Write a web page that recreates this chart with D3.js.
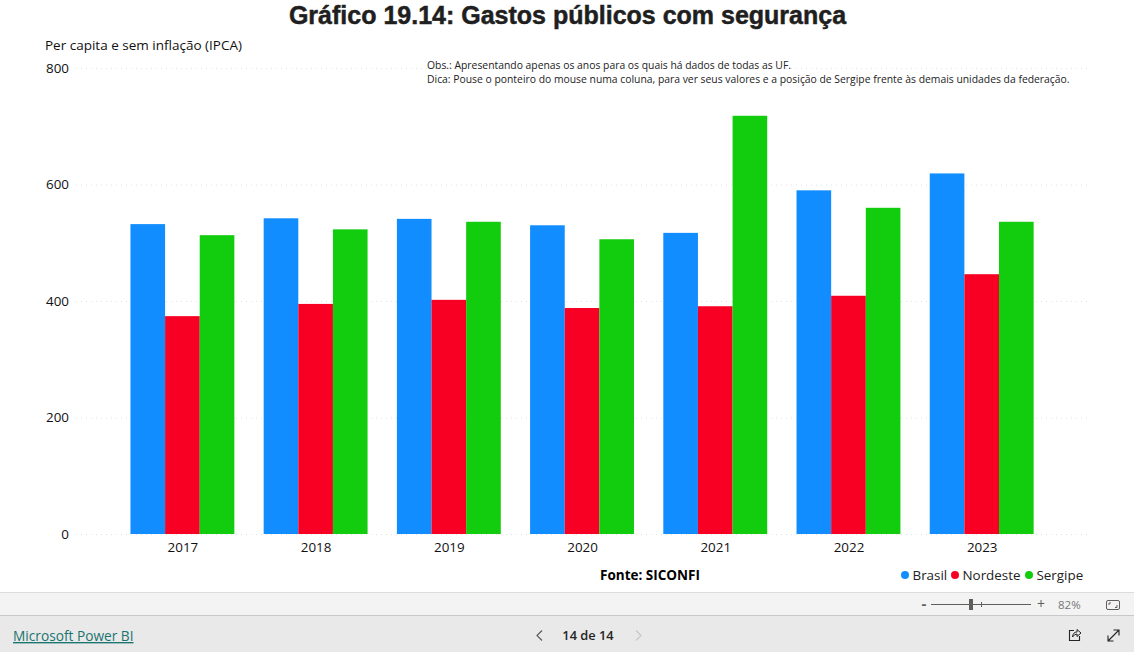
<!DOCTYPE html>
<html>
<head>
<meta charset="utf-8">
<script src="https://cdn.jsdelivr.net/npm/d3@7"></script>
<style>
  html, body { margin: 0; padding: 0; background: #fff; overflow: hidden; }
  svg { display: block; font-family: "Open Sans", sans-serif; }
  .axis .domain, .axis .tick line { display: none; }
  .axis text { font-family: "Open Sans", sans-serif; font-size: 13.4px; fill: #111; }
</style>
</head>
<body>
<script>
const years = ["2017", "2018", "2019", "2020", "2021", "2022", "2023"];
const seriesNames = ["Brasil", "Nordeste", "Sergipe"];
const brasil = [532, 542, 541, 530, 517, 590, 619];
const nordeste = [374, 395, 402, 388, 391, 409, 446];
const sergipe = [513, 523, 536, 506, 718, 560, 536];
const yTicks = [0, 200, 400, 600, 800];
const colors = ["#118dff", "#f70024", "#12cc0e"];

const width = 1134;
const height = 652;

const svg = d3
  .select("body")
  .append("svg")
  .attr("width", width)
  .attr("height", height);

const xScale = d3
  .scaleBand()
  .domain(years)
  .range([115.8, 1048.3])
  .paddingInner(0.22)
  .paddingOuter(0.11);

const xInner = d3
  .scaleBand()
  .domain(seriesNames)
  .range([0, xScale.bandwidth()]);

const yScale = d3.scaleLinear().domain([0, 800]).range([534, 68]);

// dotted grid
svg
  .append("g")
  .selectAll("line")
  .data(yTicks)
  .enter()
  .append("line")
  .attr("x1", 76)
  .attr("x2", 1091)
  .attr("y1", (d) => yScale(d) + 0.5)
  .attr("y2", (d) => yScale(d) + 0.5)
  .attr("stroke", "#e2e2e2")
  .attr("stroke-width", 1)
  .attr("stroke-dasharray", "1 4");

const yAxis = d3.axisLeft(yScale).tickValues(yTicks).tickSize(0).tickPadding(0);
svg
  .append("g")
  .attr("class", "axis")
  .attr("transform", "translate(69, 0)")
  .call(yAxis);

const xAxis = d3.axisBottom(xScale).tickSize(0).tickPadding(8);
svg
  .append("g")
  .attr("class", "axis")
  .attr("transform", "translate(0.5, 534)")
  .call(xAxis);

// bars
[brasil, nordeste, sergipe].forEach((values, s) => {
  svg
    .append("g")
    .selectAll("rect")
    .data(values)
    .enter()
    .append("rect")
    .attr("x", (d, i) => xScale(years[i]) + xInner(seriesNames[s]))
    .attr("y", (d) => yScale(d))
    .attr("width", xInner.bandwidth())
    .attr("height", (d) => yScale(0) - yScale(d))
    .attr("fill", colors[s]);
});

// title and notes
svg
  .append("text")
  .attr("x", 567.5)
  .attr("y", 24)
  .attr("text-anchor", "middle")
  .style("font-family", "'Liberation Sans', Arial, sans-serif")
  .style("font-weight", "bold")
  .style("font-size", "25px")
  .attr("fill", "#1f1f1f")
  .attr("stroke", "#1f1f1f")
  .attr("stroke-width", 0.5)
  .text("Gráfico 19.14: Gastos públicos com segurança");

svg
  .append("text")
  .attr("x", 45)
  .attr("y", 50)
  .style("font-size", "13.5px")
  .attr("fill", "#111")
  .text("Per capita e sem inflação (IPCA)");

svg
  .append("text")
  .attr("x", 427)
  .attr("y", 69)
  .style("font-size", "10.37px")
  .attr("fill", "#222")
  .text("Obs.: Apresentando apenas os anos para os quais há dados de todas as UF.");

svg
  .append("text")
  .attr("x", 427)
  .attr("y", 83)
  .style("font-size", "10.37px")
  .attr("fill", "#222")
  .text("Dica: Pouse o ponteiro do mouse numa coluna, para ver seus valores e a posição de Sergipe frente às demais unidades da federação.");

svg
  .append("text")
  .attr("x", 600)
  .attr("y", 580)
  .style("font-size", "13.5px")
  .style("font-weight", "bold")
  .attr("fill", "#000")
  .text("Fonte: SICONFI");

// legend
const legendX = [905, 955, 1029];
seriesNames.forEach((name, i) => {
  svg
    .append("circle")
    .attr("cx", legendX[i])
    .attr("cy", 575)
    .attr("r", 4)
    .attr("fill", colors[i]);
  svg
    .append("text")
    .attr("x", legendX[i] + 7.5)
    .attr("y", 580)
    .style("font-size", "13.4px")
    .attr("fill", "#222")
    .text(name);
});

// Power BI footer
svg.append("rect").attr("x", 0).attr("y", 592).attr("width", width).attr("height", 60).attr("fill", "#e9e9e9");
svg.append("rect").attr("x", 0).attr("y", 592).attr("width", width).attr("height", 23).attr("fill", "#f3f3f3");
svg.append("line").attr("x1", 0).attr("x2", width).attr("y1", 592.5).attr("y2", 592.5).attr("stroke", "#dcdcdc");
svg.append("line").attr("x1", 0).attr("x2", width).attr("y1", 615.5).attr("y2", 615.5).attr("stroke", "#c8c8c8");

svg
  .append("text")
  .attr("x", 13)
  .attr("y", 641)
  .style("font-size", "13.7px")
  .style("text-decoration", "underline")
  .attr("fill", "#1a7470")
  .text("Microsoft Power BI");

svg
  .append("text")
  .attr("x", 588)
  .attr("y", 640)
  .attr("text-anchor", "middle")
  .style("font-size", "12.8px")
  .style("font-weight", "600")
  .attr("fill", "#252423")
  .text("14 de 14");

// page arrows
svg.append("path").attr("d", "M542 630.5 L537 635.5 L542 640.5").attr("fill", "none").attr("stroke", "#605e5c").attr("stroke-width", 1.2);
svg.append("path").attr("d", "M636 630.5 L641 635.5 L636 640.5").attr("fill", "none").attr("stroke", "#c8c8c8").attr("stroke-width", 1.2);

// zoom slider
svg.append("line").attr("x1", 931).attr("x2", 1031).attr("y1", 604.5).attr("y2", 604.5).attr("stroke", "#605e5c");
svg.append("line").attr("x1", 981.5).attr("x2", 981.5).attr("y1", 602).attr("y2", 607).attr("stroke", "#605e5c");
svg.append("rect").attr("x", 969).attr("y", 599).attr("width", 4).attr("height", 11).attr("fill", "#605e5c");
svg.append("text").attr("x", 924).attr("y", 609).attr("text-anchor", "middle").style("font-size", "15px").style("font-weight", "bold").attr("fill", "#605e5c").text("-");
svg.append("text").attr("x", 1041).attr("y", 609).attr("text-anchor", "middle").style("font-size", "14px").attr("fill", "#605e5c").text("+");
svg.append("text").attr("x", 1058).attr("y", 609).style("font-size", "11.5px").attr("fill", "#777").text("82%");
svg.append("rect").attr("x", 1106.5).attr("y", 600.5).attr("width", 13).attr("height", 9).attr("rx", 1.5).attr("fill", "none").attr("stroke", "#605e5c");
svg.append("path").attr("d", "M1109 605 V603 H1111 M1117 605 V607.5 H1115").attr("fill", "none").attr("stroke", "#605e5c");

// share and expand icons
svg.append("path").attr("d", "M1074 630.5 H1069.5 V640.5 H1079.5 V636").attr("fill", "none").attr("stroke", "#252423").attr("stroke-width", 1.1);
svg.append("path").attr("d", "M1072.5 637 Q1073 632 1077 632 V629.5 L1081 633 L1077 636.5 V634 Q1074.5 634 1072.5 637 Z").attr("fill", "none").attr("stroke", "#252423").attr("stroke-width", 1);
svg.append("path").attr("d", "M1108 641 L1119 630 M1113.5 630 H1119 V635.5 M1108 635.5 V641 H1113.5").attr("fill", "none").attr("stroke", "#252423").attr("stroke-width", 1.1);
</script>
</body>
</html>
